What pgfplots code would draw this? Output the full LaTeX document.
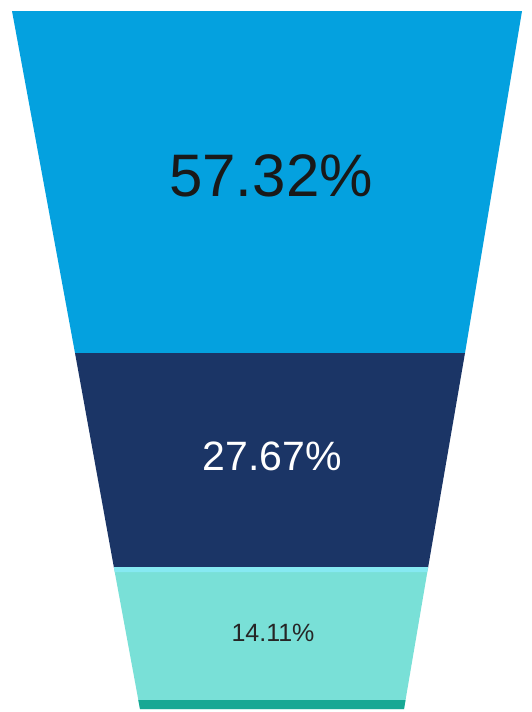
\documentclass[border=0pt]{standalone}
\usepackage{pgfplots}
\pgfplotsset{compat=1.18}
\usepackage{fontspec}
\setmainfont{Liberation Sans}
\definecolor{topblue}{HTML}{04A1DF}
\definecolor{navy}{HTML}{1B3566}
\definecolor{teal}{HTML}{79E0D7}
\definecolor{tealdark}{HTML}{17A894}
\definecolor{tealline}{HTML}{86E9F2}
\begin{document}
\begin{tikzpicture}
\begin{axis}[
  width=531pt, height=712pt, scale only axis,
  xmin=0, xmax=531, ymin=0, ymax=712, y dir=reverse,
  hide axis, clip=false,
]
% invisible frame
\addplot[draw=none, fill=white] coordinates {(0,0) (531,0) (531,712) (0,712)} -- cycle;
% top segment
\addplot[draw=none, fill=topblue] coordinates {(12,11) (522,11) (465,353) (75,353)} -- cycle;
% middle segment
\addplot[draw=none, fill=navy] coordinates {(75,353) (465,353) (428,568) (114,568)} -- cycle;
% bottom segment
\addplot[draw=none, fill=teal] coordinates {(114,568) (428,568) (404,709) (140,709)} -- cycle;
% highlight line between middle and bottom
\addplot[draw=none, fill=tealline] coordinates {(114,567) (428,567) (427.3,572) (114.7,572)} -- cycle;
% base strip
\addplot[draw=none, fill=tealdark] coordinates {(138.3,700) (405.5,700) (404,709) (140,709)} -- cycle;
\node[font=\fontsize{60}{60}\selectfont, text=black!90] at (axis cs:271,176) {57.32\%};
\node[font=\fontsize{41}{41}\selectfont, text=white] at (axis cs:272,456) {27.67\%};
\node[font=\fontsize{25}{25}\selectfont, text=black!85] at (axis cs:273,633) {14.11\%};
\end{axis}
\end{tikzpicture}
\end{document}
